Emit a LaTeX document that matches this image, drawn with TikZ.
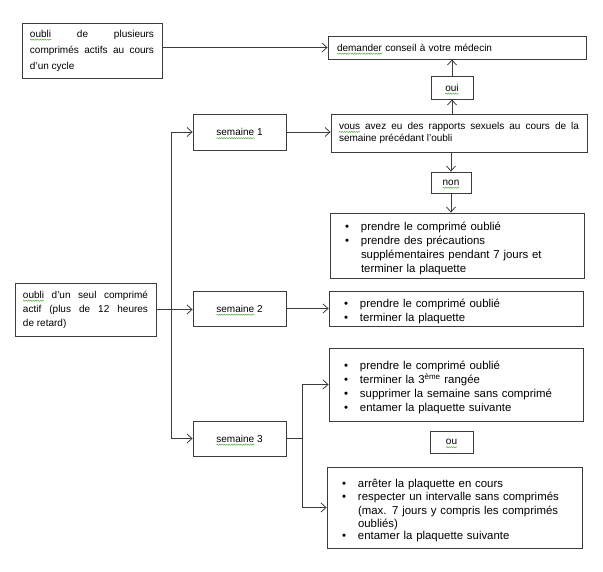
\documentclass[tikz,border=0pt]{standalone}
\usepackage{fontspec}
\setmainfont{Liberation Sans}
\usetikzlibrary{arrows.meta,calc,decorations.pathmorphing}
\definecolor{sqgreen}{RGB}{90,170,70}
\definecolor{lc}{RGB}{60,60,60}
\newsavebox\sqbox
\newlength\sqlen
\newcommand\sq[1]{\sbox\sqbox{#1}\setlength\sqlen{\wd\sqbox}\usebox\sqbox\tikz[overlay,x=1pt,y=1pt]\draw[sqgreen,line width=0.5pt,decorate,decoration={snake,amplitude=0.6pt,segment length=2.4pt}] (-\sqlen,-2.6pt) -- (0pt,-2.6pt);}
\newcommand\bitem[1]{\par\noindent\makebox[16pt][l]{\textbullet}\parbox[t]{\dimexpr\linewidth-16pt\relax}{\raggedright #1}\par}
\begin{document}
\begin{tikzpicture}[x=1pt,y=-1pt,
  box/.style={draw=lc,line width=0.8pt,inner xsep=8pt,inner ysep=2pt,rectangle,font=\fontsize{10}{14}\selectfont},
  blist/.style={box,inner xsep=15pt,text width=#1,align=left,font=\fontsize{11.4}{14}\selectfont},
  conn/.style={draw=lc,line width=0.8pt},
  arr/.style={conn,-{Straight Barb[length=5pt,width=9pt]}}]
\useasboundingbox (0,0) rectangle (603,571);

\node[box,text width=124pt,align=justify,minimum height=55pt,font=\fontsize{10}{16}\selectfont] (A) at (92,50.5)
  {\sq{oubli} de plusieurs\linebreak comprimés actifs au cours\linebreak d'un cycle};
\node[box,text width=240pt,align=left,inner xsep=9pt,minimum height=23pt] (M) at (457,47.5)
  {\sq{demander} conseil à votre médecin};
\node[box,minimum width=42pt,minimum height=23pt] (oui) at (452,87.5) {\sq{oui}};
\node[box,text width=240pt,align=justify,minimum height=38pt,font=\fontsize{10}{12.5}\selectfont] (vous) at (459,133)
  {\sq{vous} avez eu des rapports sexuels au cours de la\linebreak semaine précédant l'oubli};
\node[box,minimum width=40pt,minimum height=21pt] (non) at (451,182.5) {\sq{non}};
\node[blist=224pt,minimum height=65pt] (B1) at (457,245.5)
  {\bitem{prendre le comprimé oublié}\bitem{prendre des précautions\newline supplémentaires pendant 7 jours et\newline terminer la plaquette}};
\node[blist=224pt,minimum height=35pt] (B2) at (456,308.5)
  {\bitem{prendre le comprimé oublié}\bitem{terminer la plaquette}};
\node[blist=224pt,minimum height=73pt] (B3a) at (456,384.5)
  {\bitem{prendre le comprimé oublié}\bitem{terminer la 3\smash{\textsuperscript{ème}} rangée}\bitem{supprimer la semaine sans comprimé}\bitem{entamer la plaquette suivante}};
\node[box,minimum width=43pt,minimum height=22pt] (ou) at (451.5,442) {\sq{ou}};
\node[blist=225pt,minimum height=81pt,font=\fontsize{11.4}{13.5}\selectfont] (B3b) at (454.5,507.5)
  {\bitem{arrêter la plaquette en cours}\bitem{respecter un intervalle sans comprimés\newline (max. 7 jours y compris les comprimés\newline oubliés)}\bitem{entamer la plaquette suivante}};

\node[box,minimum width=93pt,minimum height=36pt] (sem1) at (239.5,132) {\sq{semaine} 1};
\node[box,minimum width=93pt,minimum height=35pt] (sem2) at (239.5,308.5) {\sq{semaine} 2};
\node[box,minimum width=93pt,minimum height=35pt] (sem3) at (239.5,438.5) {\sq{semaine} 3};
\node[box,text width=125pt,align=justify,minimum height=53pt] (seul) at (85.5,309.5)
  {\sq{oubli} d'un seul comprimé\linebreak actif (plus de 12 heures\linebreak de retard)};

\draw[arr] (A.east |- M.west) -- (M.west);
\draw[arr] (oui.south |- vous.north) -- (oui.south);
\draw[arr] (oui.north) -- (oui.north |- M.south);
\draw[arr] (non.north |- vous.south) -- (non.north);
\draw[arr] (non.south) -- (non.south |- B1.north);
\draw[arr] (sem1.east) -- (sem1.east -| vous.west);
\draw[arr] (sem2.east) -- (sem2.east -| B2.west);
\coordinate (tr) at (171,0);
\draw[arr] (seul.east) -- (seul.east -| sem2.west);
\draw[arr] (tr |- seul.east) |- (sem1.west);
\draw[arr] (tr |- seul.east) |- (sem3.west);
\coordinate (br) at (302,0);
\draw[conn] (sem3.east) -- (br |- sem3.east);
\draw[arr] (br |- sem3.east) |- (B3a.west);
\draw[arr] (br |- sem3.east) |- (B3b.west);
\end{tikzpicture}
\end{document}
